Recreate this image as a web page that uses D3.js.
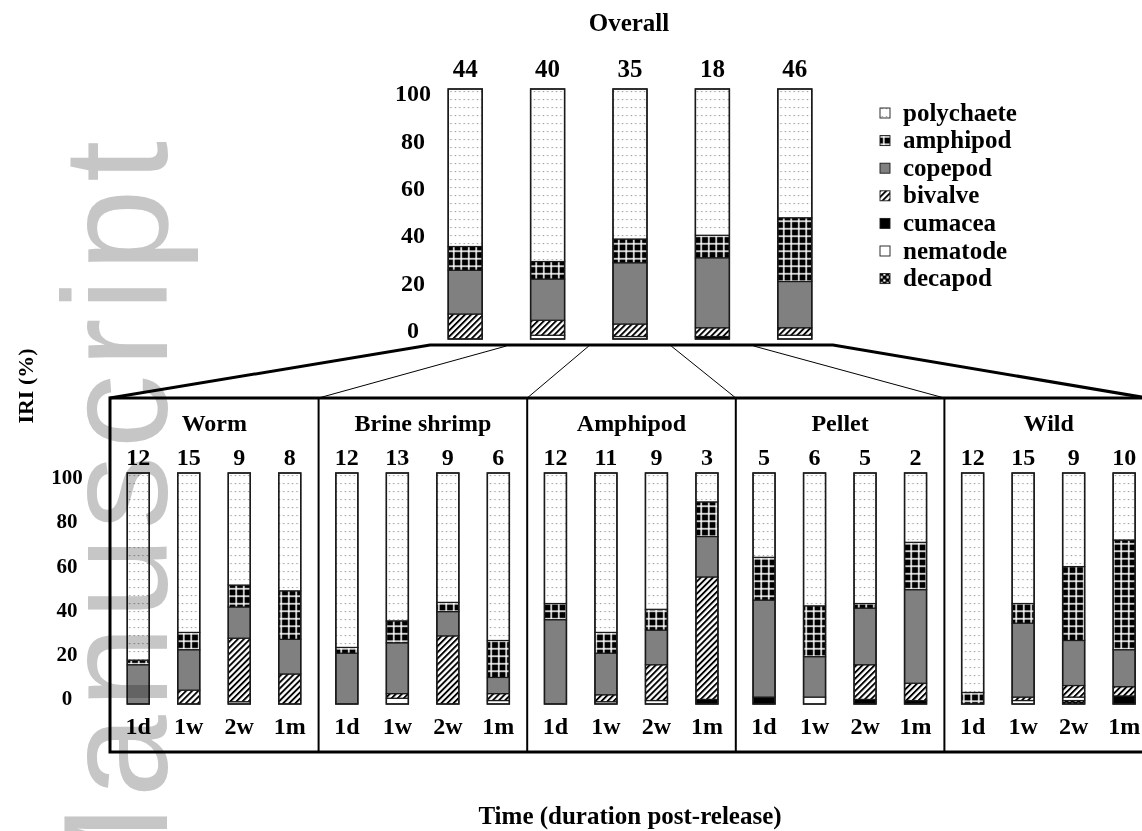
<!DOCTYPE html>
<html>
<head>
<meta charset="utf-8">
<script src="https://cdn.jsdelivr.net/npm/d3@7"></script>
<style>
body { margin: 0; background: #fff; }
svg text { font-family: 'Liberation Serif', 'Times New Roman', serif; font-weight: bold; fill: #000; }
svg text.wm { font-family: 'Liberation Sans', Arial, sans-serif; font-weight: normal; fill: #c6c6c6; }
</style>
</head>
<body>
<div id="chart"></div>
<script>
var groups = ['Worm', 'Brine shrimp', 'Amphipod', 'Pellet', 'Wild'];
var times = ['1d', '1w', '2w', '1m'];
var overallN = [44, 40, 35, 18, 46];
var panelN = [12, 15, 9, 8,  12, 13, 9, 6,  12, 11, 9, 3,  5, 6, 5, 2,  12, 15, 9, 10];
var legendOrder = ['polychaete', 'amphipod', 'copepod', 'bivalve', 'cumacea', 'nematode', 'decapod'];
var yTicks = [0, 20, 40, 60, 80, 100];

// overall IRI (%), one value per group
var overallPolychaete = [63, 69, 60, 58.5, 51.5];
var overallAmphipod   = [9.5, 7, 9.5, 9, 25.5];
var overallCopepod    = [17.5, 16.5, 24.5, 28, 18.5];
var overallBivalve    = [10, 6, 5, 3.5, 3];
var overallCumacea    = [0, 0, 0, 1, 0];
var overallNematode   = [0, 1.5, 1, 0, 1.5];
var overallDecapod    = [0, 0, 0, 0, 0];

// IRI (%) per group and time: Worm, Brine shrimp, Amphipod, Pellet, Wild (1d 1w 2w 1m each)
var polychaete = [81, 69, 48.5, 51,  75.5, 64, 56, 72.5,  56.5, 69, 59, 12.5,  36.5, 57.5, 56.5, 30,  95, 56.5, 40.5, 29];
var amphipod   = [2, 7.5, 9.5, 21,   2.5, 9.5, 4, 16,     7, 9, 9, 15,         18.5, 22, 2, 20.5,    5, 8.5, 32, 47.5];
var copepod    = [17, 17.5, 13.5, 15, 22, 22, 10.5, 7,    36.5, 18, 15, 17.5,  42, 17.5, 24.5, 40.5, 0, 32, 19.5, 16];
var bivalve    = [0, 6, 27.5, 13,    0, 2, 29.5, 3,       0, 3, 15.5, 53,      0, 0, 15, 7.5,        0, 1.5, 5, 4];
var cumacea    = [0, 0, 0, 0,        0, 0, 0, 0,          0, 0, 0, 2,          3, 0, 2, 1.5,         0, 0, 0, 3.5];
var nematode   = [0, 0, 1, 0,        0, 2.5, 0, 1.5,      0, 1, 1.5, 0,        0, 3, 0, 0,           0, 1.5, 1.5, 0];
var decapod    = [0, 0, 0, 0,        0, 0, 0, 0,          0, 0, 0, 0,          0, 0, 0, 0,           0, 0, 1.5, 0];

var stackOrder = legendOrder.slice().reverse();

var overallRows = groups.map(function(g, i) {
    return { key: g, n: overallN[i], polychaete: overallPolychaete[i], amphipod: overallAmphipod[i],
             copepod: overallCopepod[i], bivalve: overallBivalve[i], cumacea: overallCumacea[i],
             nematode: overallNematode[i], decapod: overallDecapod[i] };
});

var panelRows = [];
groups.forEach(function(g, gi) {
    times.forEach(function(t, ti) {
        var i = gi * times.length + ti;
        panelRows.push({ group: g, key: t, n: panelN[i], polychaete: polychaete[i], amphipod: amphipod[i],
                         copepod: copepod[i], bivalve: bivalve[i], cumacea: cumacea[i],
                         nematode: nematode[i], decapod: decapod[i] });
    });
});

var width = 1142, height = 831;

var svg = d3.select('#chart').append('svg')
    .attr('width', width).attr('height', height);

// fill patterns
var defs = svg.append('defs');

var pDots = defs.append('pattern').attr('id', 'p-polychaete')
    .attr('patternUnits', 'userSpaceOnUse').attr('width', 4.4).attr('height', 8);
pDots.append('rect').attr('width', 4.4).attr('height', 8).attr('fill', '#fff');
pDots.append('rect').attr('x', 1.5).attr('y', 3).attr('width', 1.4).attr('height', 1.1).attr('fill', '#9a9a9a');

var pGrid = defs.append('pattern').attr('id', 'p-amphipod')
    .attr('patternUnits', 'userSpaceOnUse').attr('width', 7.5).attr('height', 7.5);
pGrid.append('rect').attr('width', 7.5).attr('height', 7.5).attr('fill', '#000');
pGrid.append('rect').attr('x', 3).attr('width', 1.5).attr('height', 7.5).attr('fill', '#fff');
pGrid.append('rect').attr('y', 3).attr('width', 7.5).attr('height', 1.5).attr('fill', '#fff');

var pHatch = defs.append('pattern').attr('id', 'p-bivalve')
    .attr('patternUnits', 'userSpaceOnUse').attr('width', 4.3).attr('height', 4.3)
    .attr('patternTransform', 'rotate(45)');
pHatch.append('rect').attr('width', 4.3).attr('height', 4.3).attr('fill', '#fff');
pHatch.append('rect').attr('width', 1.9).attr('height', 4.3).attr('fill', '#000');

var pCheck = defs.append('pattern').attr('id', 'p-decapod')
    .attr('patternUnits', 'userSpaceOnUse').attr('width', 6).attr('height', 6);
pCheck.append('rect').attr('width', 6).attr('height', 6).attr('fill', '#000');
pCheck.append('rect').attr('x', 3.3).attr('y', 0.8).attr('width', 2.2).attr('height', 2.2).attr('fill', '#fff');
pCheck.append('rect').attr('x', 0.5).attr('y', 3.5).attr('width', 2.2).attr('height', 2.2).attr('fill', '#fff');

var fills = {
    polychaete: 'url(#p-polychaete)',
    amphipod: 'url(#p-amphipod)',
    copepod: '#808080',
    bivalve: 'url(#p-bivalve)',
    cumacea: '#000',
    nematode: '#fff',
    decapod: 'url(#p-decapod)'
};

var stack = d3.stack().keys(stackOrder);

function drawBars(g, rows, x, y, barW) {
    var series = stack(rows);
    g.selectAll('g.layer').data(series).enter().append('g')
        .attr('class', 'layer')
        .attr('fill', function(s) { return fills[s.key]; })
        .selectAll('rect').data(function(s) { return s.filter(function(d) { return d[1] > d[0]; }); })
        .enter().append('rect')
        .attr('x', function(d) { return x(d.data.key) - barW / 2; })
        .attr('y', function(d) { return y(d[1]); })
        .attr('width', barW)
        .attr('height', function(d) { return y(d[0]) - y(d[1]); })
        .attr('stroke', '#1a1a1a').attr('stroke-width', 1.2);

    g.selectAll('rect.outline').data(rows).enter().append('rect')
        .attr('class', 'outline')
        .attr('x', function(d) { return x(d.key) - barW / 2; })
        .attr('y', y(100))
        .attr('width', barW)
        .attr('height', y(0) - y(100))
        .attr('fill', 'none').attr('stroke', '#1a1a1a').attr('stroke-width', 1.5);
}

// ---- Overall chart
var xTop = d3.scalePoint().domain(groups).range([424, 836]).padding(0.5);
var yTop = d3.scaleLinear().domain([0, 100]).range([339, 89]);

svg.append('text').attr('x', 629).attr('y', 22).attr('dy', '0.35em')
    .attr('text-anchor', 'middle').style('font-size', '25px').text('Overall');

var overallG = svg.append('g');
drawBars(overallG, overallRows, xTop, yTop, 34);

overallG.selectAll('text.n').data(overallRows).enter().append('text')
    .attr('class', 'n')
    .attr('x', function(d) { return xTop(d.key); })
    .attr('y', 68).attr('dy', '0.35em')
    .attr('text-anchor', 'middle').style('font-size', '25px')
    .text(function(d) { return d.n; });

var yTopTicks = yTop.copy().range([330, 93]);
svg.append('g').attr('transform', 'translate(413,0)')
    .call(d3.axisLeft(yTopTicks).tickValues(yTicks).tickSize(0).tickPadding(0))
    .call(function(a) {
        a.select('.domain').remove();
        a.attr('font-family', null).attr('font-size', null);
        a.selectAll('text').attr('text-anchor', 'middle').attr('x', 0)
            .style('font-size', '24px');
    });

// legend
var legend = svg.append('g').selectAll('g').data(legendOrder).enter().append('g')
    .attr('transform', function(d, i) { return 'translate(880,' + (113 + i * 27.6) + ')'; });
legend.append('rect').attr('x', 0).attr('y', -5).attr('width', 10).attr('height', 10)
    .attr('fill', function(d) { return fills[d]; })
    .attr('stroke', '#1a1a1a').attr('stroke-width', 0.9);
legend.append('text').attr('x', 23).attr('dy', '0.3em').style('font-size', '25px')
    .text(function(d) { return d; });

// ---- connector between overall and panels
var xPanel = d3.scaleBand().domain(groups).range([110, 1153]);
var boxTop = 398, boxBottom = 752, topLine = 345;

var connectors = svg.append('g').attr('stroke', '#000').attr('fill', 'none');
connectors.append('path')
    .attr('d', 'M' + xPanel.range()[0] + ',' + boxTop + 'L' + (xTop.range()[0] + 6) + ',' + topLine +
               'L' + (xTop.range()[1] - 3) + ',' + topLine + 'L' + xPanel.range()[1] + ',' + (boxTop + 1))
    .attr('stroke-width', 3).attr('stroke-linejoin', 'miter');
connectors.selectAll('line').data(groups.slice(1)).enter().append('line')
    .attr('x1', function(g, i) { return (xTop(groups[i]) + xTop(g)) / 2; })
    .attr('y1', topLine + 1)
    .attr('x2', function(g) { return xPanel(g); })
    .attr('y2', boxTop)
    .attr('stroke-width', 1);

// ---- panels
svg.append('rect').attr('x', xPanel.range()[0]).attr('y', boxTop)
    .attr('width', xPanel.range()[1] - xPanel.range()[0]).attr('height', boxBottom - boxTop)
    .attr('fill', 'none').attr('stroke', '#000').attr('stroke-width', 3);

svg.append('g').selectAll('line').data(groups.slice(1)).enter().append('line')
    .attr('x1', function(g) { return xPanel(g); }).attr('x2', function(g) { return xPanel(g); })
    .attr('y1', boxTop).attr('y2', boxBottom)
    .attr('stroke', '#000').attr('stroke-width', 2);

var yBot = d3.scaleLinear().domain([0, 100]).range([704, 473]);

groups.forEach(function(grp) {
    var left = xPanel(grp);
    var x = d3.scalePoint().domain(times).range([left + 3, left + 205]).padding(0.5);
    var rows = panelRows.filter(function(r) { return r.group === grp; });
    var g = svg.append('g');

    g.append('text').attr('x', left + xPanel.bandwidth() / 2).attr('y', 423).attr('dy', '0.35em')
        .attr('text-anchor', 'middle').style('font-size', '24px').text(grp);

    drawBars(g, rows, x, yBot, 22);

    g.selectAll('text.n').data(rows).enter().append('text')
        .attr('class', 'n')
        .attr('x', function(d) { return x(d.key); })
        .attr('y', 457).attr('dy', '0.35em')
        .attr('text-anchor', 'middle').style('font-size', '24px')
        .text(function(d) { return d.n; });

    g.selectAll('text.t').data(rows).enter().append('text')
        .attr('class', 't')
        .attr('x', function(d) { return x(d.key); })
        .attr('y', 726).attr('dy', '0.35em')
        .attr('text-anchor', 'middle').style('font-size', '24px')
        .text(function(d) { return d.key; });
});

var yBotTicks = yBot.copy().range([698, 477]);
svg.append('g').attr('transform', 'translate(67,0)')
    .call(d3.axisLeft(yBotTicks).tickValues(yTicks).tickSize(0).tickPadding(0))
    .call(function(a) {
        a.select('.domain').remove();
        a.attr('font-family', null).attr('font-size', null);
        a.selectAll('text').attr('text-anchor', 'middle').attr('x', 0)
            .style('font-size', '21px');
    });

svg.append('text').attr('transform', 'translate(25,386) rotate(-90)').attr('dy', '0.35em')
    .attr('text-anchor', 'middle').style('font-size', '22px').text('IRI (%)');

svg.append('text').attr('x', 630).attr('y', 815).attr('dy', '0.35em')
    .attr('text-anchor', 'middle').style('font-size', '25px').text('Time (duration post-release)');

// watermark
svg.append('text').attr('class', 'wm')
    .attr('transform', 'translate(167,134) rotate(-90)')
    .attr('text-anchor', 'end')
    .style('font-size', '148px').style('letter-spacing', '7px')
    .style('mix-blend-mode', 'multiply')
    .text('Manuscript');
</script>
</body>
</html>
